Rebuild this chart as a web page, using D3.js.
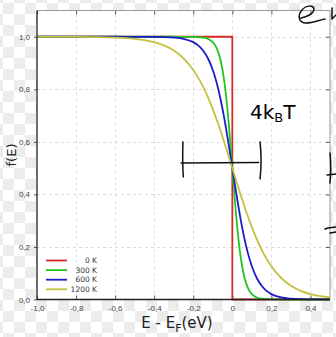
<!DOCTYPE html>
<head>
  <meta charset="utf-8">
  <script src="https://d3js.org/d3.v7.min.js"></script>
  <style>
    body { margin: 0; font-family: "DejaVu Sans", sans-serif; }
    .tick-label { font-size: 8px; fill: #444; }
    .grid { stroke: #dcdcdc; stroke-dasharray: 3,3; stroke-width: 1; }
    .legend text { font-size: 7.5px; fill: #333; }
    .hand { fill: none; stroke: #111; stroke-width: 1.5; stroke-linecap: round; stroke-linejoin: round; }
  </style>
</head>
<body>
<script>
// energy sample points (eV) and occupation
var energies = [-1.0, -0.8, -0.6, -0.5, -0.4, -0.35, -0.3, -0.25, -0.2, -0.175, -0.15, -0.125, -0.1,
  -0.08, -0.06, -0.04, -0.02, 0, 0.02, 0.04, 0.06, 0.08, 0.1, 0.125, 0.15, 0.175, 0.2, 0.25,
  0.3, 0.35, 0.4, 0.45, 0.5];
var f300 = [1, 1, 1, 1, 1, 1, 1, 0.9999, 0.9996, 0.9989, 0.997, 0.9922, 0.9795,
  0.9567, 0.9106, 0.8245, 0.6843, 0.5, 0.3157, 0.1755, 0.0894, 0.0433, 0.0205, 0.0078, 0.003, 0.0011, 0.0004, 0.0001,
  0, 0, 0, 0, 0];
var f600 = [1, 1, 1, 0.9999, 0.9996, 0.9989, 0.997, 0.9922, 0.9795, 0.9672, 0.9479, 0.9182, 0.8737,
  0.8245, 0.7614, 0.6843, 0.5955, 0.5, 0.4045, 0.3157, 0.2386, 0.1755, 0.1263, 0.0818, 0.0521, 0.0328, 0.0205, 0.0078,
  0.003, 0.0011, 0.0004, 0.0002, 0.0001];
var f1200 = [0.9999, 0.9996, 0.997, 0.9922, 0.9795, 0.9672, 0.9479, 0.9182, 0.8737, 0.8444, 0.8101, 0.7701, 0.7245,
  0.6843, 0.6411, 0.5955, 0.5482, 0.5, 0.4518, 0.4045, 0.3589, 0.3157, 0.2755, 0.2299, 0.1899, 0.1556, 0.1263, 0.0818,
  0.0521, 0.0328, 0.0205, 0.0127, 0.0078];
// 0 K step
var e0 = [-1.0, 0, 0, 0.5];
var f0 = [1, 1, 0, 0];

var seriesNames = ["0 K", "300 K", "600 K", "1200 K"];
var seriesColors = ["#d42a2a", "#22c422", "#1c1cc8", "#c4c23c"];

var xTicks = [-1.0, -0.8, -0.6, -0.4, -0.2, 0, 0.2, 0.4];
var xTickLabels = ["-1,0", "-0,8", "-0,6", "-0,4", "-0,2", "0", "0,2", "0,4"];
var yTicks = [0, 0.2, 0.4, 0.6, 0.8, 1.0];
var yTickLabels = ["0,0", "0,2", "0,4", "0,6", "0,8", "1,0"];

var W = 336, H = 337;
var plotL = 37, plotR = 330, plotT = 10.5, plotB = 299.5;

var svg = d3.select("body").append("svg")
    .attr("width", W)
    .attr("height", H);

// transparent-background checkerboard
var pat = svg.append("defs").append("pattern")
    .attr("id", "checker")
    .attr("patternUnits", "userSpaceOnUse")
    .attr("width", 22).attr("height", 22)
    .attr("x", 3).attr("y", 3);
pat.append("rect").attr("width", 22).attr("height", 22).attr("fill", "#fff");
pat.append("rect").attr("width", 11).attr("height", 11).attr("fill", "#ececec");
pat.append("rect").attr("x", 11).attr("y", 11).attr("width", 11).attr("height", 11).attr("fill", "#ececec");
svg.append("rect").attr("width", W).attr("height", H).attr("fill", "url(#checker)");

var x = d3.scaleLinear().domain([-1, 0.5]).range([plotL, plotR]);
var y = d3.scaleLinear().domain([0, 1.1]).range([plotB, plotT]);

svg.append("rect")
    .attr("x", plotL).attr("y", plotT)
    .attr("width", plotR - plotL).attr("height", plotB - plotT)
    .attr("fill", "#fff");

// dashed grid
svg.append("g").selectAll("line")
    .data(xTicks.slice(1))
  .enter().append("line")
    .attr("class", "grid")
    .attr("x1", function(d) { return Math.round(x(d)) + 0.5; })
    .attr("x2", function(d) { return Math.round(x(d)) + 0.5; })
    .attr("y1", plotT + 4).attr("y2", plotB - 4);
svg.append("g").selectAll("line")
    .data(yTicks.slice(1))
  .enter().append("line")
    .attr("class", "grid")
    .attr("y1", function(d) { return Math.round(y(d)) + 0.5; })
    .attr("y2", function(d) { return Math.round(y(d)) + 0.5; })
    .attr("x1", plotL).attr("x2", plotR - 4);

// inward ticks on top / bottom / right, outward on left
var xAxisB = d3.axisBottom(x).tickValues(xTicks).tickSizeInner(-4).tickSizeOuter(0)
    .tickFormat(function(d, i) { return xTickLabels[i]; });
var xAxisT = d3.axisTop(x).tickValues(xTicks).tickSizeInner(-4).tickSizeOuter(0).tickFormat("");
var yAxisL = d3.axisLeft(y).tickValues(yTicks).tickSizeInner(3).tickSizeOuter(0)
    .tickFormat(function(d, i) { return yTickLabels[i]; });
var yAxisR = d3.axisRight(y).tickValues(yTicks).tickSizeInner(-4).tickSizeOuter(0).tickFormat("");

var gB = svg.append("g").attr("transform", "translate(0," + plotB + ")").call(xAxisB);
var gT = svg.append("g").attr("transform", "translate(0," + plotT + ")").call(xAxisT);
var gL = svg.append("g").attr("transform", "translate(" + plotL + ",0)").call(yAxisL);
var gR = svg.append("g").attr("transform", "translate(" + plotR + ",0)").call(yAxisR);

[gB, gT, gL, gR].forEach(function(g) {
  g.select(".domain").remove();
  g.selectAll("text").attr("class", "tick-label").attr("font-family", null).attr("font-size", null);
  g.selectAll("line").attr("stroke", "#555");
});
gB.selectAll("text").attr("dy", "1.1em");
gL.selectAll("text").attr("dx", "-1");

// frame, lighter on top and right
svg.append("line").attr("x1", plotR).attr("x2", plotR).attr("y1", plotT).attr("y2", plotB)
    .attr("stroke", "#999").attr("stroke-width", 1);
svg.append("line").attr("x1", plotL).attr("x2", plotR).attr("y1", plotT).attr("y2", plotT)
    .attr("stroke", "#999").attr("stroke-width", 1);

// curves
var line = d3.line()
    .x(function(d) { return x(d[0]); })
    .y(function(d) { return y(d[1]); });
var lineSmooth = d3.line()
    .x(function(d) { return x(d[0]); })
    .y(function(d) { return y(d[1]); })
    .curve(d3.curveMonotoneX);

var curves = [
  d3.zip(e0, f0),
  d3.zip(energies, f300),
  d3.zip(energies, f600),
  d3.zip(energies, f1200)
];

var plot = svg.append("g");
curves.forEach(function(c, i) {
  plot.append("path")
      .datum(c)
      .attr("fill", "none")
      .attr("stroke", seriesColors[i])
      .attr("stroke-width", 1.8)
      .attr("d", i == 0 ? line : lineSmooth);
});

svg.append("line").attr("x1", plotL).attr("x2", plotL).attr("y1", plotT).attr("y2", plotB + 0.5)
    .attr("stroke", "#222").attr("stroke-width", 1.3);
svg.append("line").attr("x1", plotL).attr("x2", plotR).attr("y1", plotB).attr("y2", plotB)
    .attr("stroke", "#222").attr("stroke-width", 1.3);

// legend
var legend = svg.append("g").attr("class", "legend");
seriesNames.forEach(function(name, i) {
  var ly = 260.5 + i * 9.6;
  legend.append("line")
      .attr("x1", 46).attr("x2", 67)
      .attr("y1", ly).attr("y2", ly)
      .attr("stroke", seriesColors[i]).attr("stroke-width", 1.8);
  legend.append("text")
      .attr("x", 97).attr("y", ly)
      .attr("dy", "0.35em")
      .attr("text-anchor", "end")
      .text(name);
});

// axis titles
var xt = svg.append("text")
    .attr("x", 177).attr("y", 328)
    .attr("text-anchor", "middle")
    .attr("font-size", 15)
    .attr("fill", "#222");
xt.append("tspan").text("E - E");
xt.append("tspan").attr("font-size", 11).attr("dy", 4).text("F");
xt.append("tspan").attr("dy", -4).text("(eV)");

svg.append("text")
    .attr("transform", "translate(16,155) rotate(-90)")
    .attr("text-anchor", "middle")
    .attr("font-size", 13)
    .attr("fill", "#222")
    .text("f(E)");

// handwritten annotations
var hand = svg.append("g");
var barY = y(0.52);
hand.append("path").attr("class", "hand")
    .attr("d", "M" + x(-0.262) + "," + barY + "L" + x(0.135) + "," + (barY - 0.5));
hand.append("path").attr("class", "hand")
    .attr("d", "M" + x(-0.253) + "," + (barY - 21) + "Q" + (x(-0.256)) + "," + barY + " " + x(-0.251) + "," + (barY + 14));
hand.append("path").attr("class", "hand")
    .attr("d", "M" + x(0.142) + "," + (barY - 21) + "Q" + (x(0.152)) + "," + (barY - 2) + " " + x(0.142) + "," + (barY + 16));

var kt = svg.append("text")
    .attr("x", 250).attr("y", 119)
    .attr("font-size", 20)
    .attr("fill", "#000");
kt.append("tspan").text("4k");
kt.append("tspan").attr("font-size", 13).attr("dy", 3).text("B");
kt.append("tspan").attr("dy", -3).text("T");

// "e" scribble at top right and fragments at the right edge
hand.append("path").attr("class", "hand")
    .attr("d", "M301,18 C306,17 314,14 314,9 C314,5 306,5 302,10 C297,16 299,23 306,23 C313,23 319,20 325,19");
hand.append("path").attr("class", "hand")
    .attr("d", "M332,8 L332,19 L336,15");
hand.append("path").attr("class", "hand")
    .attr("d", "M330,153 C331,162 331,172 330,183 M327,175 L336,174");
hand.append("path").attr("class", "hand")
    .attr("d", "M325,229 C329,227 333,228 336,227 M330,233 L336,232");
</script>
</body>
